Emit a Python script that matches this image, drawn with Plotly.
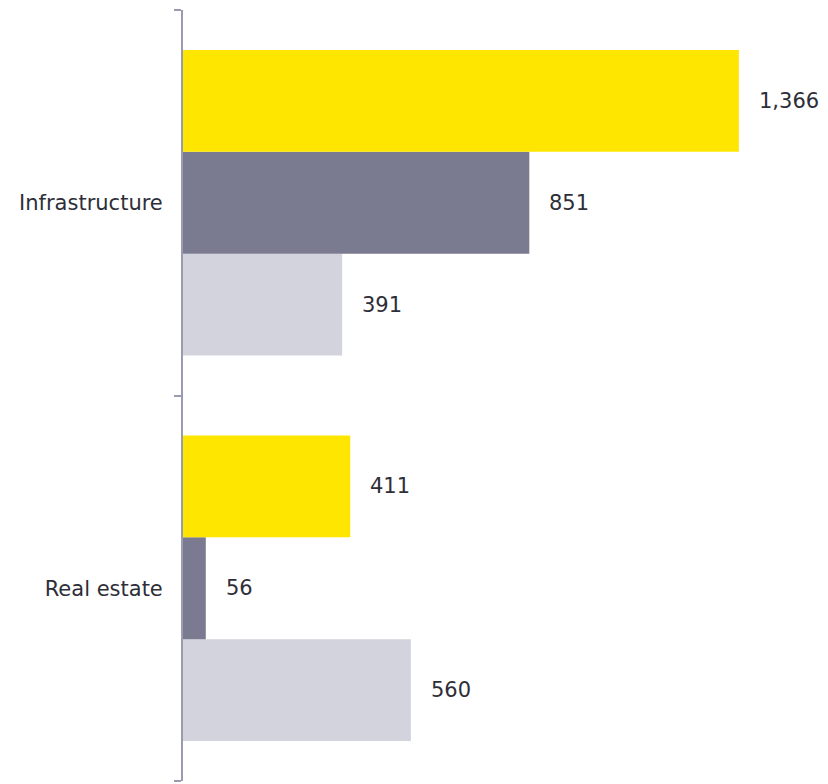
import plotly.graph_objects as go

# Categories and the three series plotted for each
categories = ["Infrastructure", "Real estate"]
series_names = ["Series 1", "Series 2", "Series 3"]
series_values = [
    [1366, 411],
    [851, 56],
    [391, 560],
]
series_colors = ["#FFE600", "#7A7A90", "#D3D3DD"]

FONT = "DejaVu Sans"
FONT_SIZE = 21
TEXT_COLOR = "#2E2E38"
AXIS_COLOR = "#9A9AB0"
BARGAP = 0.207
n_series = len(series_values)
bar_w = (1 - BARGAP) / n_series

# y axis runs bottom-to-top, so list categories bottom-first and add
# the series in reverse so the first series sits at the top of each group
cat_bottom_first = categories[::-1]

fig = go.Figure()
annotations = []
for i in reversed(range(n_series)):
    vals = series_values[i]
    fig.add_trace(go.Bar(
        y=categories, x=vals, name=series_names[i], orientation="h",
        marker=dict(color=series_colors[i], line=dict(width=0)),
        hoverinfo="skip",
    ))
    # value labels placed just past the end of each bar
    for ci, v in enumerate(vals):
        ypos = cat_bottom_first.index(categories[ci]) + ((n_series - 1) / 2 - i) * bar_w
        annotations.append(dict(
            x=v, y=ypos, xref="x", yref="y", text=f"{v:,}", showarrow=False,
            xanchor="left", yanchor="middle", xshift=18,
            font=dict(family=FONT, size=FONT_SIZE, color=TEXT_COLOR),
        ))

fig.update_layout(
    width=828, height=784,
    margin=dict(l=183, r=0, t=10, b=3),
    paper_bgcolor="white", plot_bgcolor="white",
    barmode="group", bargap=BARGAP, bargroupgap=0,
    showlegend=False,
    annotations=annotations,
    font=dict(family=FONT, size=FONT_SIZE, color=TEXT_COLOR),
)
fig.update_xaxes(range=[0, 1585], visible=False)
fig.update_yaxes(
    type="category", categoryorder="array", categoryarray=cat_bottom_first,
    range=[-0.5, 1.5], autorange=False,
    showline=True, linecolor=AXIS_COLOR, linewidth=2,
    ticks="outside", tickson="boundaries", ticklen=7, tickcolor=AXIS_COLOR, tickwidth=2,
    showgrid=False, zeroline=False,
    tickfont=dict(family=FONT, size=FONT_SIZE, color=TEXT_COLOR),
    ticklabelstandoff=14,
)

fig.write_html("out.html")
